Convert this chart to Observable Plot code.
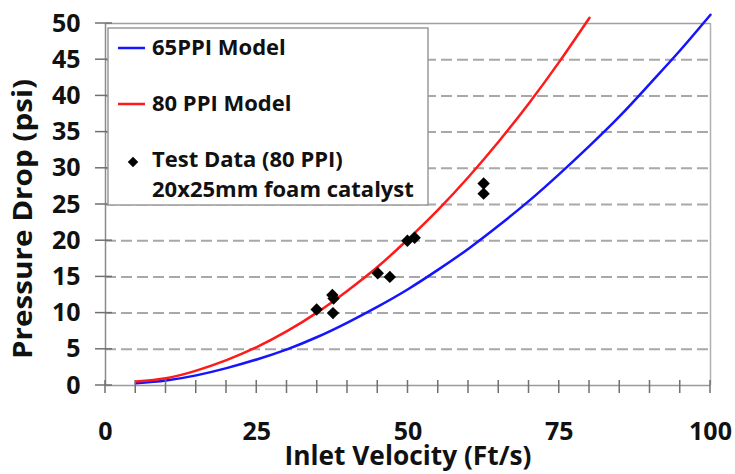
<!DOCTYPE html>
<html>
<head>
<meta charset="utf-8">
<script src="https://cdn.jsdelivr.net/npm/d3@7"></script>
<script src="https://cdn.jsdelivr.net/npm/@observablehq/plot@0.6"></script>
<style>
  html, body { margin: 0; padding: 0; background: #fff; }
  #chart svg { display: block; }
</style>
</head>
<body>
<div id="chart"></div>
<script>
// ---- data ----
const velocity80 = [5, 10, 15, 20, 25, 30, 35, 40, 45, 50, 55, 60, 65, 70, 75, 80];
const pressure80 = [0.55, 1.0, 2.05, 3.5, 5.3, 7.5, 10.1, 13.1, 16.4, 20.2, 24.3, 28.8, 33.7, 39.0, 44.7, 50.8];

const velocity65 = [5, 10, 15, 20, 25, 30, 35, 40, 45, 50, 55, 60, 65, 70, 75, 80, 85, 90, 95, 100];
const pressure65 = [0.3, 0.7, 1.4, 2.4, 3.6, 5.0, 6.7, 8.7, 10.9, 13.3, 16.0, 18.9, 22.1, 25.5, 29.2, 33.1, 37.2, 41.7, 46.3, 51.2];

const testVelocity = [34.9, 37.5, 37.7, 37.6, 45.0, 47.0, 49.9, 51.1, 62.5, 62.5];
const testPressure = [10.5, 12.5, 12.0, 10.0, 15.5, 15.0, 20.0, 20.4, 27.9, 26.5];

const yTicks = [0, 5, 10, 15, 20, 25, 30, 35, 40, 45, 50];
const gridLevels = [5, 10, 15, 20, 25, 30, 35, 40, 45];
const xLabelTicks = [0, 25, 50, 75, 100];
const xMinorTicks = [0, 5, 10, 15, 20, 25, 30, 35, 40, 45, 50, 55, 60, 65, 70, 75, 80, 85, 90, 95, 100];

const xTitle = "Inlet Velocity (Ft/s)";
const yTitle = "Pressure Drop (psi)";
const legendLabels = ["65PPI Model", "80 PPI Model", "Test Data (80 PPI)", "20x25mm foam catalyst"];

// ---- tables ----
const model80 = velocity80.map((v, i) => ({v, p: pressure80[i]}));
const model65 = velocity65.map((v, i) => ({v, p: pressure65[i]}));
const tests = testVelocity.map((v, i) => ({v, p: testPressure[i]}));

const BLUE = "#1414ff";
const RED = "#ff1a1a";
const TICK = "#707070";
const FONT = "'Open Sans', 'DejaVu Sans', sans-serif";

const chart = Plot.plot({
  width: 735,
  height: 474,
  marginLeft: 105,
  marginRight: 25,
  marginTop: 23,
  marginBottom: 89,
  style: {fontFamily: FONT, background: "#fff"},
  x: {domain: [0, 100], axis: null},
  y: {domain: [0, 50], axis: null},
  marks: [
    Plot.ruleY(gridLevels, {stroke: "#a8a8a8", strokeWidth: 2, strokeDasharray: "11,5"}),
    Plot.ruleY([50], {stroke: "#a0a0a0", strokeWidth: 1.5}),
    Plot.ruleX([100], {stroke: "#b0b0b0", strokeWidth: 1.5}),
    Plot.ruleX([0], {stroke: "#8a8a8a", strokeWidth: 1.5}),
    Plot.ruleY([0], {stroke: "#9a9a9a", strokeWidth: 1.5}),
    Plot.axisY({ticks: yTicks, tickSize: 0, tickPadding: 25, label: null, fontSize: 25, fontWeight: 700, color: "#111"}),
    Plot.axisX({ticks: xLabelTicks, tickSize: 0, tickPadding: 37, label: null, fontSize: 25, fontWeight: 700, color: "#111"}),
    Plot.line(model65, {x: "v", y: "p", stroke: BLUE, strokeWidth: 2.5, curve: "natural"}),
    Plot.line(model80, {x: "v", y: "p", stroke: RED, strokeWidth: 2.5, curve: "natural"}),
    Plot.dot(tests, {x: "v", y: "p", symbol: "diamond2", r: 5.6, fill: "#000", stroke: "none"})
  ]
});

document.getElementById("chart").appendChild(chart);

// ---- tick marks crossing the axes, placed with Plot's own scales ----
const svg = d3.select(chart);
const sx = chart.scale("x");
const sy = chart.scale("y");
const x0 = sx.apply(0);
const y0 = sy.apply(0);
const tg = svg.append("g").attr("stroke", TICK).attr("stroke-width", 1.5);
yTicks.forEach(t => {
  const py = sy.apply(t);
  tg.append("line").attr("x1", x0 - 10).attr("x2", x0 + 7).attr("y1", py).attr("y2", py);
});
xMinorTicks.forEach(t => {
  const px = sx.apply(t);
  tg.append("line").attr("x1", px).attr("x2", px).attr("y1", y0 - 5).attr("y2", y0 + 8);
});

// ---- titles and legend ----
svg.append("text")
  .attr("x", 408).attr("y", 465)
  .attr("text-anchor", "middle")
  .attr("font-family", FONT).attr("font-weight", 700).attr("font-size", 26)
  .attr("fill", "#111")
  .attr("textLength", 247).attr("lengthAdjust", "spacingAndGlyphs")
  .text(xTitle);

svg.append("text")
  .attr("transform", "translate(32,219) rotate(-90)")
  .attr("text-anchor", "middle")
  .attr("font-family", FONT).attr("font-weight", 700).attr("font-size", 26)
  .attr("fill", "#111")
  .attr("textLength", 280).attr("lengthAdjust", "spacingAndGlyphs")
  .text(yTitle);

const lg = svg.append("g")
  .attr("font-family", FONT).attr("font-weight", 700).attr("font-size", 22)
  .attr("fill", "#111").attr("text-anchor", "start");
lg.append("rect").attr("x", 108).attr("y", 28).attr("width", 320).attr("height", 177)
  .attr("fill", "#fff").attr("stroke", "#9a9a9a").attr("stroke-width", 1.5);
lg.append("line").attr("x1", 118).attr("x2", 145).attr("y1", 48).attr("y2", 48)
  .attr("stroke", BLUE).attr("stroke-width", 2.5);
lg.append("line").attr("x1", 118).attr("x2", 145).attr("y1", 104).attr("y2", 104)
  .attr("stroke", RED).attr("stroke-width", 2.5);
lg.append("path").attr("transform", "translate(133,162)")
  .attr("d", d3.symbol(d3.symbolDiamond2, 70)()).attr("fill", "#000");
const ys = [55, 111, 167, 197];
legendLabels.forEach((t, i) => {
  lg.append("text").attr("x", 152).attr("y", ys[i]).attr("text-anchor", "start").text(t);
});
</script>
</body>
</html>
